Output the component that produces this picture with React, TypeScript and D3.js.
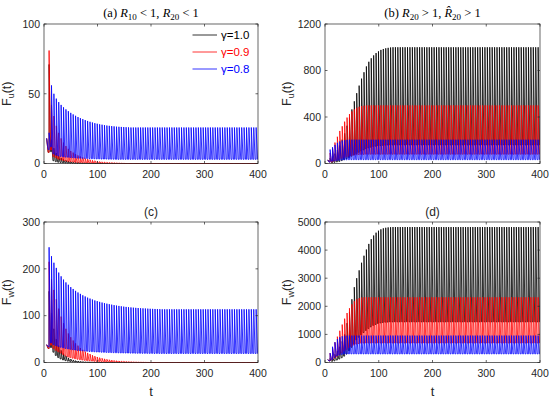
import * as d3 from "d3";

const W = 550;
const H = 402;

// pulse schedule (t of first pulse, spacing) and end of the time axis
const T_START = 5;
const PERIOD = 4.5;
const T_END = 400;
const DECAY = 0.6; // part of a period the drop after each pulse takes

const COLORS = ["#000000", "#ff0000", "#0000ff"];
const LEGEND = ["γ=1.0", "γ=0.9", "γ=0.8"];
const X_TICKS = [0, 100, 200, 300, 400];

// values right after pulse k (peak) and just before pulse k (low); last entry holds on
// (a) F_u, R10<1, R20<1
const aBlackPeak = [18, 71, 17, 11, 7.5, 5.5, 4, 3, 2.3, 1.8, 1.4, 1.1, 0.9, 0.7, 0.5, 0.4, 0.3, 0.2, 0.1, 0];
const aBlackLow = [18, 8, 8.5, 2, 1.3, 0.9, 0.7, 0.5, 0.4, 0.3, 0.2, 0.17, 0.13, 0.1, 0.08, 0.06, 0.05, 0.04, 0.02, 0];
const aRedPeak = [18, 81, 42, 34, 27, 22, 18, 15, 12.5, 10.5, 9, 7.8, 6.7, 5.8, 5, 4.3, 3.7, 3.2, 2.7, 2.3, 2, 1.7, 1.4, 1.2, 1, 0.85, 0.7, 0.6, 0.5, 0.4, 0.3, 0.2, 0.1, 0];
const aRedLow = [18, 8, 9.7, 5, 4.1, 3.2, 2.6, 2.2, 1.8, 1.5, 1.3, 1.1, 0.9, 0.8, 0.7, 0.6, 0.5, 0.44, 0.38, 0.32, 0.28, 0.24, 0.2, 0.17, 0.14, 0.12, 0.1, 0.08, 0.07, 0.06, 0.05, 0.04, 0.02, 0];
const aBluePeak = [18, 22, 56, 50, 46.5, 44, 42, 40.3, 38.8, 37.5, 36.3, 35.2, 34.2, 33.3, 32.5, 31.8, 31.1, 30.5, 29.9, 29.4, 28.9, 28.5, 28.1, 27.8, 27.5, 27.2, 27, 26.8, 26.6, 26.4, 26.3, 26.2, 26.1, 26, 25.9, 25.8];
const aBlueLow = [18, 10, 12, 7, 6, 5.4, 5.1, 4.8, 4.6, 4.5, 4.3, 4.2, 4, 3.9, 3.8, 3.7, 3.7, 3.6, 3.5, 3.4, 3.4, 3.3, 3.3, 3.2, 3.2, 3.2, 3.1, 3.1, 3.1, 3, 3];

// (b) F_u, R20>1, R^20>1
const bBlackPeak = [30, 45, 60, 85, 115, 155, 205, 260, 325, 395, 465, 535, 605, 670, 730, 785, 835, 875, 905, 930, 950, 965, 977, 985, 991, 995, 998, 1000];
const bBlackLow = [30, 20, 7, 10, 14, 18, 25, 33, 42, 52, 63, 74, 86, 97, 107, 117, 126, 134, 140, 145, 149, 152, 154, 156, 158, 159, 159, 160];
const bRedPeak = [30, 90, 130, 180, 230, 280, 320, 360, 395, 425, 448, 466, 479, 488, 494, 497, 499, 500];
const bRedLow = [30, 12, 14, 21, 29, 37, 45, 51, 58, 63, 68, 72, 75, 77, 78, 79, 80, 80];
const bBluePeak = [30, 120, 140, 160, 178, 190, 197, 201, 204, 205];
const bBlueLow = [30, 12, 19, 22, 26, 28, 30, 32, 32, 33];

// (c) F_w
const cBlackPeak = [38, 152, 105, 72, 50, 36, 26, 19, 14, 10, 7.5, 5.5, 4, 3, 2.2, 1.6, 1.2, 0.9, 0.6, 0.4, 0.2, 0];
const cBlackLow = [38, 30, 32, 22, 15, 10.5, 7.6, 5.5, 4, 2.9, 2.1, 1.6, 1.2, 0.8, 0.6, 0.5, 0.3, 0.25, 0.2, 0.1, 0.08, 0];
const cRedPeak = [38, 215, 178, 155, 135, 115, 98, 84, 72, 62, 54, 47, 41, 36, 31, 27, 23.5, 20.5, 18, 15.5, 13.5, 11.8, 10.3, 9, 7.8, 6.8, 5.9, 5.1, 4.4, 3.8, 3.3, 2.8, 2.4, 2, 1.7, 1.4, 1.2, 1, 0.8, 0.6, 0.5, 0.3, 0.1, 0];
const cRedLow = [38, 30, 37, 30, 26, 23, 20, 17, 14, 12, 10.5, 9.2, 8, 7, 6.1, 5.3, 4.6, 4, 3.5, 3.1, 2.6, 2.3, 2, 1.8, 1.5, 1.3, 1.2, 1, 0.9, 0.75, 0.65, 0.56, 0.48, 0.41, 0.34, 0.29, 0.24, 0.2, 0.17, 0.14, 0.1, 0.08, 0.05, 0];
const cBluePeak = [38, 246, 227, 213, 202, 192, 184, 177, 171, 166, 161, 157, 153, 149.5, 146.5, 143.5, 141, 138.5, 136.5, 134.5, 132.5, 131, 129.5, 128, 126.8, 125.6, 124.5, 123.5, 122.5, 121.6, 120.8, 120, 119.3, 118.7, 118.1, 117.6, 117.1, 116.7, 116.3, 115.9, 115.6, 115.3, 115, 114.7, 114.5, 114.3, 114.1, 113.9, 113.6];
const cBlueLow = [38, 34, 42, 38.6, 36.2, 34.3, 32.6, 31.3, 30.1, 29.1, 28.2, 27.4, 26.7, 26, 25.4, 24.9, 24.4, 24, 23.5, 23.2, 22.9, 22.5, 22.3, 22, 21.8, 21.6, 21.4, 21.2, 21, 20.8, 20.7, 20.5, 20.4, 20.3, 20.2, 20.1, 20, 19.9, 19.8, 19.7, 19.7, 19.6, 19.6, 19.5, 19.5, 19.4, 19.4, 19.4, 19.3];

// (d) F_w
const dBlackPeak = [100, 140, 200, 290, 410, 560, 750, 1000, 1400, 1800, 2250, 2680, 3000, 3280, 3550, 3800, 4020, 4220, 4390, 4520, 4620, 4690, 4740, 4775, 4795, 4808, 4815, 4820];
const dBlackLow = [100, 60, 42, 60, 87, 123, 168, 225, 300, 420, 540, 675, 804, 900, 984, 1065, 1140, 1206, 1266, 1317, 1356, 1386, 1407, 1422, 1433, 1439, 1442, 1445, 1446];
const dRedPeak = [100, 330, 520, 720, 920, 1130, 1350, 1560, 1760, 1930, 2070, 2180, 2250, 2290, 2310, 2320];
const dRedLow = [100, 60, 99, 156, 216, 276, 339, 405, 468, 528, 579, 621, 654, 675, 687, 693, 696];
const dBluePeak = [100, 330, 560, 720, 830, 900, 935, 950, 958];
const dBlueLow = [100, 60, 106, 179, 230, 266, 288, 299, 304, 307];

const aTicks = [0, 50, 100];
const bTicks = [0, 400, 800, 1200];
const cTicks = [0, 100, 200, 300];
const dTicks = [0, 1000, 2000, 3000, 4000, 5000];

const COL_X = [
  [44, 258],
  [325, 540],
];
const ROW_Y = [
  [24, 163.5],
  [222, 362.5],
];

type Series = [number[], number[]];
interface Panel {
  id: string;
  col: number;
  row: number;
  yTicks: number[];
  sub: string;
  series: Series[];
}

const PANELS: Panel[] = [
  { id: "a", col: 0, row: 0, yTicks: aTicks, sub: "u", series: [[aBlackPeak, aBlackLow], [aRedPeak, aRedLow], [aBluePeak, aBlueLow]] },
  { id: "b", col: 1, row: 0, yTicks: bTicks, sub: "u", series: [[bBlackPeak, bBlackLow], [bRedPeak, bRedLow], [bBluePeak, bBlueLow]] },
  { id: "c", col: 0, row: 1, yTicks: cTicks, sub: "w", series: [[cBlackPeak, cBlackLow], [cRedPeak, cRedLow], [cBluePeak, cBlueLow]] },
  { id: "d", col: 1, row: 1, yTicks: dTicks, sub: "w", series: [[dBlackPeak, dBlackLow], [dRedPeak, dRedLow], [dBluePeak, dBlueLow]] },
];

const SANS = "'Liberation Sans', Arial, Helvetica, sans-serif";
const SERIF = "'Liberation Serif', 'Times New Roman', serif";
const AXIS = "#262626";

function held(arr: number[], k: number) {
  return arr[Math.min(k, arr.length - 1)];
}

// points of the impulsive trajectory: jump at each pulse, drop to the low, hold until the next pulse
function trajectory([peaks, lows]: Series): [number, number][] {
  const n = Math.floor((T_END - T_START) / PERIOD) + 1;
  const pts: [number, number][] = [[T_START, held(peaks, 0)]];
  for (let k = 1; k < n; k++) {
    const t = T_START + k * PERIOD;
    const low = held(lows, k);
    pts.push([t - PERIOD + DECAY * PERIOD, low], [t, low], [t, held(peaks, k)]);
  }
  const tLast = T_START + (n - 1) * PERIOD;
  const endLow = held(lows, n);
  pts.push([Math.min(T_END, tLast + DECAY * PERIOD), endLow], [T_END, endLow]);
  return pts;
}

function PanelView({ p }: { p: Panel }) {
  const [x0, x1] = COL_X[p.col];
  const [y0, y1] = ROW_Y[p.row];
  const x = d3.scaleLinear().domain([0, T_END]).range([x0, x1]);
  const yMax = p.yTicks[p.yTicks.length - 1];
  const y = d3.scaleLinear().domain([0, yMax]).range([y1, y0]);
  const line = d3
    .line<[number, number]>()
    .x((d) => x(d[0]))
    .y((d) => y(d[1]));
  const clipId = `clip-${p.id}`;
  const cx = (x0 + x1) / 2;
  const cy = (y0 + y1) / 2;
  const labelX = p.col === 0 ? 11 : 291;
  const tick = 2.5;

  return (
    <g>
      <clipPath id={clipId}>
        <rect x={x0} y={y0 - 1} width={x1 - x0} height={y1 - y0 + 1.5} />
      </clipPath>
      <g clipPath={`url(#${clipId})`}>
        {p.series.map((s, i) => (
          <path key={i} d={line(trajectory(s)) ?? ""} fill="none" stroke={COLORS[i]} strokeWidth={0.8} />
        ))}
      </g>
      {/* box */}
      <rect x={x0} y={y0} width={x1 - x0} height={y1 - y0} fill="none" stroke={AXIS} strokeWidth={0.7} />
      {/* x ticks */}
      {X_TICKS.map((v) => (
        <g key={`x${v}`}>
          <line x1={x(v)} x2={x(v)} y1={y1} y2={y1 - tick} stroke={AXIS} strokeWidth={0.7} />
          <line x1={x(v)} x2={x(v)} y1={y0} y2={y0 + tick} stroke={AXIS} strokeWidth={0.7} />
          <text x={x(v)} y={y1 + 14} textAnchor="middle" fontFamily={SANS} fontSize={10.5} fill={AXIS}>
            {v}
          </text>
        </g>
      ))}
      {/* y ticks */}
      {p.yTicks.map((v) => (
        <g key={`y${v}`}>
          <line x1={x0} x2={x0 + tick} y1={y(v)} y2={y(v)} stroke={AXIS} strokeWidth={0.7} />
          <line x1={x1} x2={x1 - tick} y1={y(v)} y2={y(v)} stroke={AXIS} strokeWidth={0.7} />
          <text x={x0 - 4} y={y(v)} dy="0.36em" textAnchor="end" fontFamily={SANS} fontSize={10.5} fill={AXIS}>
            {v}
          </text>
        </g>
      ))}
      {/* y label */}
      <text
        transform={`translate(${labelX},${cy}) rotate(-90)`}
        textAnchor="middle"
        fontFamily={SANS}
        fontSize={12.5}
        fill={AXIS}
      >
        F<tspan fontSize={9} dy={3}>{p.sub}</tspan>
        <tspan dy={-3}>(t)</tspan>
      </text>
      {p.row === 1 && (
        <text x={cx} y={y1 + 33} textAnchor="middle" fontFamily={SANS} fontSize={13} fill={AXIS}>
          t
        </text>
      )}
      {p.id === "a" && (
        <text x={cx} y={y0 - 7} textAnchor="middle" fontFamily={SERIF} fontSize={12.5} fill="#000">
          (a) <tspan fontStyle="italic">R</tspan>
          <tspan fontSize={9} dy={2.5}>10</tspan>
          <tspan dy={-2.5}> &lt; 1, </tspan>
          <tspan fontStyle="italic">R</tspan>
          <tspan fontSize={9} dy={2.5}>20</tspan>
          <tspan dy={-2.5}> &lt; 1</tspan>
        </text>
      )}
      {p.id === "b" && (
        <text x={cx} y={y0 - 7} textAnchor="middle" fontFamily={SERIF} fontSize={12.5} fill="#000">
          (b) <tspan fontStyle="italic">R</tspan>
          <tspan fontSize={9} dy={2.5}>20</tspan>
          <tspan dy={-2.5}> &gt; 1, </tspan>
          <tspan fontStyle="italic">{"R\u0302"}</tspan>
          <tspan fontSize={9} dy={2.5}>20</tspan>
          <tspan dy={-2.5}> &gt; 1</tspan>
        </text>
      )}
      {p.row === 1 && (
        <text x={cx} y={y0 - 6} textAnchor="middle" fontFamily={SANS} fontSize={12} fill={AXIS}>
          ({p.id})
        </text>
      )}
      {p.id === "a" &&
        LEGEND.map((label, i) => (
          <g key={label}>
            <line x1={192.5} x2={217} y1={35 + i * 17} y2={35 + i * 17} stroke={COLORS[i]} strokeWidth={0.8} />
            <text x={221} y={35 + i * 17} dy="0.35em" fontFamily={SANS} fontSize={11.5} fill={COLORS[i]}>
              {label}
            </text>
          </g>
        ))}
    </g>
  );
}

export default function App() {
  return (
    <>
      <style>{`body{margin:0}`}</style>
      <svg width={W} height={H} viewBox={`0 0 ${W} ${H}`} style={{ display: "block", background: "#fff" }}>
        {PANELS.map((p) => (
          <PanelView key={p.id} p={p} />
        ))}
      </svg>
    </>
  );
}
